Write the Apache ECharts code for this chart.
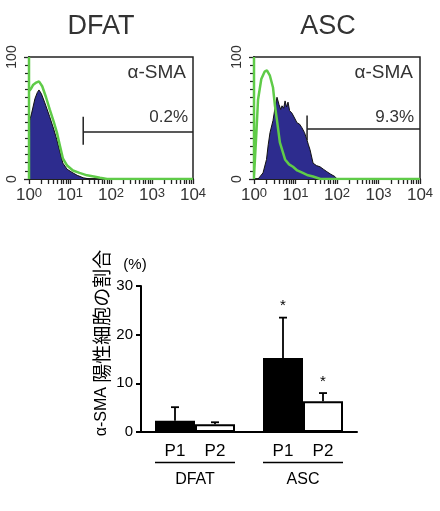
<!DOCTYPE html>
<html>
<head>
<meta charset="utf-8">
<script src="https://cdn.jsdelivr.net/npm/echarts@6/dist/echarts.min.js"></script>
<style>
html, body { margin: 0; padding: 0; background: #fff; }
#chart { width: 440px; height: 511px; }
</style>
</head>
<body>
<div id="chart"></div>
<script>
'use strict';

// flow histograms: [fluorescence, % of max]
const dfatBlue = [[1, 0], [1.04, 48], [1.16, 54], [1.4, 66], [1.6, 71], [1.75, 73], [2.0, 70], [2.4, 63],
    [3.2, 51], [4.0, 41], [4.8, 32], [5.7, 22], [6.7, 13], [8.5, 8], [11.8, 5], [15, 3], [21, 1], [30, 0]];
const dfatGreen = [[1, 0], [1, 100], [1, 72], [1.12, 74], [1.25, 77], [1.5, 79], [1.75, 80], [2.1, 76],
    [2.6, 67], [3.2, 57], [4.0, 47], [4.8, 38], [5.7, 27], [6.7, 17], [8.5, 11], [11.8, 7], [17, 5],
    [26, 3], [38, 2], [54, 1], [80, 0], [10000, 0]];
const ascBlue = [[1.25, 0], [1.32, 1], [1.65, 5], [2.0, 16], [2.2, 28], [2.43, 38], [2.87, 48], [3.2, 58],
    [3.58, 67], [4.0, 61], [4.4, 57], [4.73, 60], [5.2, 58], [5.6, 64], [6.1, 59], [6.6, 63], [7.2, 56],
    [8.2, 54], [9.5, 50], [10.9, 46], [12.5, 45], [14.3, 42], [16.5, 38], [18.9, 32], [20.5, 28],
    [22.4, 24], [26.5, 13], [32, 11], [39, 10], [47, 8], [57, 6], [70, 4], [89, 2], [100, 0]];
const ascGreen = [[1, 0], [1, 100], [1, 2], [1.15, 40], [1.25, 65], [1.5, 82], [1.8, 88], [2.05, 89],
    [2.4, 85], [2.87, 75], [3.2, 60], [3.58, 48], [4.2, 30], [5.6, 16], [7.0, 12], [8.7, 10],
    [11, 7], [15, 5], [20, 3], [26.5, 2], [40, 0], [10000, 0]];
// gate marker: x start, level, tick low, tick high
const dfatGate = [21, 38.5, 28, 51];
const ascGate = [19, 41, 32, 52];

const histTitles = ['DFAT', 'ASC'];
const histMarker = 'α-SMA';
const histPct = ['0.2%', '9.3%'];
const decadeTicks = [1, 10, 100, 1000, 10000];
const logTicks = [1, 2, 3, 4, 5, 6, 7, 8, 9, 10, 20, 30, 40, 50, 60, 70, 80, 90,
    100, 200, 300, 400, 500, 600, 700, 800, 900, 1000, 2000, 3000, 4000, 5000, 6000, 7000, 8000, 9000, 10000];

// bar chart
const groups = ['DFAT', 'ASC'];
const p1Mean = [2.3, 15.2];
const p1Err = [2.8, 8.3];
const p1Sig = ['', '*'];
const p2Mean = [1.6, 6.3];
const p2Err = [0.4, 1.7];
const p2Sig = ['', '*'];

const FONT = '"Liberation Sans", Arial, sans-serif';
const CJK = '"Noto Sans CJK JP", sans-serif';
const INK = '#333';

function histX(gi) {
    return {
        type: 'log', gridIndex: gi, min: 1, max: 10000,
        axisLine: {lineStyle: {color: '#222', width: 2}},
        axisTick: {show: true, customValues: logTicks, length: 5, lineStyle: {color: '#222', width: 1.3}},
        axisLabel: {
            customValues: decadeTicks, margin: 8,
            formatter: v => '{b|10}{s|' + Math.round(Math.log10(v)) + '}',
            rich: {
                b: {fontSize: 17, color: INK, fontFamily: FONT},
                s: {fontSize: 13, color: INK, fontFamily: FONT, verticalAlign: 'top'}
            }
        },
        splitLine: {show: false}
    };
}

function histY(gi) {
    return {
        type: 'value', gridIndex: gi, min: 0, max: 100, interval: 100,
        axisLine: {show: true, lineStyle: {color: '#222', width: 2}},
        axisTick: {show: true, length: 5, lineStyle: {color: '#222', width: 1.3}},
        minorTick: {show: true, splitNumber: 15, length: 4, lineStyle: {color: '#222', width: 1.2}},
        axisLabel: {rotate: 90, fontSize: 14, color: INK, fontFamily: FONT, margin: 10},
        splitLine: {show: false},
        minorSplitLine: {show: false}
    };
}

function histSeries(xi, yi, blue, green, gate) {
    return [
        {
            type: 'line', xAxisIndex: xi, yAxisIndex: yi, data: blue, symbol: 'none',
            lineStyle: {color: '#111', width: 1}, areaStyle: {color: '#2d2c8e', opacity: 1}, z: 2
        },
        {
            type: 'line', xAxisIndex: xi, yAxisIndex: yi, data: green, symbol: 'none',
            lineStyle: {color: '#5fcb48', width: 2.5}, z: 3
        },
        {
            type: 'line', xAxisIndex: xi, yAxisIndex: yi, symbol: 'none',
            data: [[gate[0], gate[2]], [gate[0], gate[3]]],
            lineStyle: {color: '#222', width: 1.5}, z: 4
        },
        {
            type: 'line', xAxisIndex: xi, yAxisIndex: yi, symbol: 'none',
            data: [[gate[0], gate[1]], [10000, gate[1]]],
            lineStyle: {color: '#222', width: 1.5}, z: 4
        }
    ];
}

function errSeries(means, errs, sigs, offset) {
    return {
        type: 'custom', xAxisIndex: 2, yAxisIndex: 2, z: 5,
        data: groups.map((g, i) => [i, means[i], errs[i]]),
        renderItem: (params, api) => {
            var base = api.coord([api.value(0), api.value(1)]);
            var top = api.coord([api.value(0), api.value(1) + api.value(2)]);
            var x = base[0] + offset;
            var st = {stroke: '#000', lineWidth: 1.8};
            return {
                type: 'group',
                children: [
                    {type: 'line', shape: {x1: x, y1: base[1], x2: x, y2: top[1]}, style: st},
                    {type: 'line', shape: {x1: x - 4, y1: top[1], x2: x + 4, y2: top[1]}, style: st},
                    {
                        type: 'text', x: x, y: top[1] - 4,
                        style: {text: sigs[params.dataIndex], align: 'center', verticalAlign: 'bottom',
                            fontSize: 15, fontFamily: FONT, fill: '#000'}
                    }
                ]
            };
        }
    };
}

var chart = echarts.init(document.getElementById('chart'));

var option = {
    animation: false,
    grid: [
        {left: 29, top: 57, width: 164, height: 122, show: true, borderColor: '#222', borderWidth: 1.5},
        {left: 254, top: 57, width: 166, height: 122, show: true, borderColor: '#222', borderWidth: 1.5},
        {left: 141, top: 286, width: 216, height: 146}
    ],
    xAxis: [histX(0), histX(1), {
        type: 'category', gridIndex: 2, data: groups,
        axisLine: {lineStyle: {color: '#000', width: 2}},
        axisTick: {show: false},
        axisLabel: {
            margin: 9,
            formatter: v => '{p|P1}{p|P2}\n{ln| }\n{g|' + v + '}',
            rich: {
                p: {width: 40, align: 'center', fontSize: 17, lineHeight: 20, color: '#000', fontFamily: FONT},
                ln: {width: 80, height: 1.5, lineHeight: 3, fontSize: 1, backgroundColor: '#000'},
                g: {width: 80, align: 'center', fontSize: 16, lineHeight: 32, color: '#000', fontFamily: FONT}
            }
        }
    }],
    yAxis: [histY(0), histY(1), {
        type: 'value', gridIndex: 2, min: 0, max: 30, interval: 10,
        name: '(%)', nameLocation: 'end', nameGap: 14,
        nameTextStyle: {fontSize: 15, color: '#000', fontFamily: FONT, padding: [0, 12, 0, 0]},
        axisLine: {show: true, lineStyle: {color: '#000', width: 2}},
        axisTick: {show: true, length: 5, lineStyle: {color: '#000', width: 2}},
        axisLabel: {fontSize: 15, color: '#000', fontFamily: FONT, margin: 8},
        splitLine: {show: false}
    }],
    series: histSeries(0, 0, dfatBlue, dfatGreen, dfatGate)
        .concat(histSeries(1, 1, ascBlue, ascGreen, ascGate))
        .concat([
            {
                type: 'bar', name: 'P1', xAxisIndex: 2, yAxisIndex: 2, data: p1Mean,
                barWidth: 40, barGap: '0%',
                itemStyle: {color: '#000', borderColor: '#000', borderWidth: 1.5}
            },
            {
                type: 'bar', name: 'P2', xAxisIndex: 2, yAxisIndex: 2, data: p2Mean,
                barWidth: 40, barGap: '0%',
                itemStyle: {color: '#fff', borderColor: '#000', borderWidth: 2}
            },
            errSeries(p1Mean, p1Err, p1Sig, -20),
            errSeries(p2Mean, p2Err, p2Sig, 20)
        ]),
    graphic: [
        {type: 'text', x: 101, y: 27, style: {text: histTitles[0], align: 'center', verticalAlign: 'middle', fontSize: 27, fontFamily: FONT, fill: INK}},
        {type: 'text', x: 328, y: 27, style: {text: histTitles[1], align: 'center', verticalAlign: 'middle', fontSize: 27, fontFamily: FONT, fill: INK}},
        {type: 'text', x: 186, y: 73, style: {text: histMarker, align: 'right', verticalAlign: 'middle', fontSize: 19, fontFamily: FONT, fill: INK}},
        {type: 'text', x: 413, y: 73, style: {text: histMarker, align: 'right', verticalAlign: 'middle', fontSize: 19, fontFamily: FONT, fill: INK}},
        {type: 'text', x: 188, y: 117, style: {text: histPct[0], align: 'right', verticalAlign: 'middle', fontSize: 17, fontFamily: FONT, fill: INK}},
        {type: 'text', x: 414, y: 117, style: {text: histPct[1], align: 'right', verticalAlign: 'middle', fontSize: 17, fontFamily: FONT, fill: INK}},
        {
            type: 'text', x: 102, y: 343, rotation: Math.PI / 2,
            style: {
                text: '{a|α-SMA }{b|陽性細胞の割合}', align: 'center', verticalAlign: 'middle',
                rich: {
                    a: {fontSize: 16, fontFamily: FONT, fill: '#000', color: '#000'},
                    b: {fontSize: 19, fontFamily: CJK, fill: '#000', color: '#000'}
                }
            }
        }
    ]
};

chart.setOption(option);
</script>
</body>
</html>
